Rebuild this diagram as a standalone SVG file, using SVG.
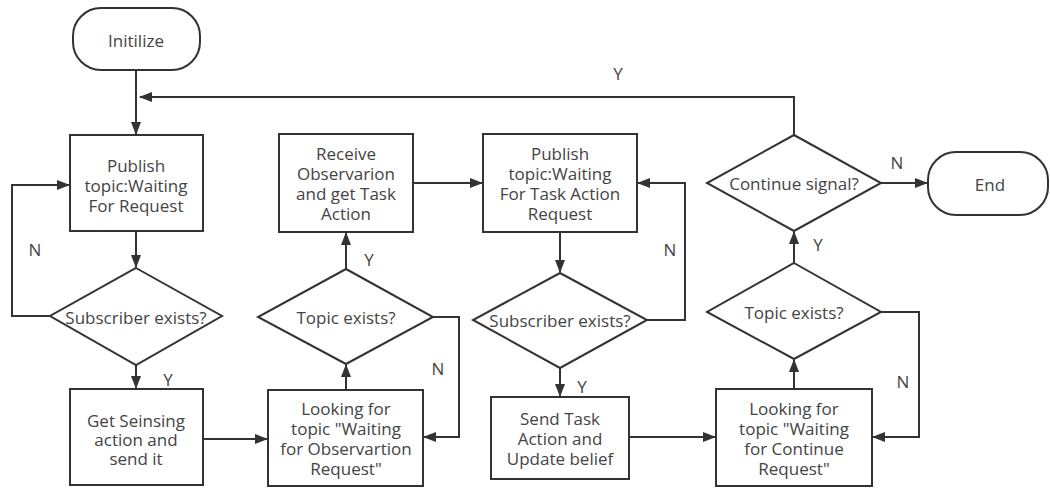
<svg xmlns="http://www.w3.org/2000/svg" width="1050" height="488" viewBox="0 0 1050 488">
  <style>
    .shape { fill: #ffffff; stroke: #333333; stroke-width: 2; }
    .edge { fill: none; stroke: #333333; stroke-width: 2; }
    text { font-family: "Open Sans", "Noto Sans", "Liberation Sans", sans-serif; font-size: 17px; fill: #444444; text-anchor: middle; }
  </style>
  <defs>
    <marker id="arrow" markerUnits="userSpaceOnUse" markerWidth="13" markerHeight="10" refX="12" refY="5" orient="auto">
      <path d="M0,0 L13,5 L0,10 z" fill="#333333"/>
    </marker>
  </defs>
  <rect width="1050" height="488" fill="#ffffff"/>

  <!-- connectors -->
  <g id="connectors">
    <path class="edge" d="M136,70 V134" marker-end="url(#arrow)"/>
    <path class="edge" d="M794,135 V97 H140" marker-end="url(#arrow)"/>
    <path class="edge" d="M136,231 V267" marker-end="url(#arrow)"/>
    <path class="edge" d="M50,316 H12 V185 H69" marker-end="url(#arrow)"/>
    <path class="edge" d="M136,365 V388" marker-end="url(#arrow)"/>
    <path class="edge" d="M203,439 H267" marker-end="url(#arrow)"/>
    <path class="edge" d="M346,390 V365" marker-end="url(#arrow)"/>
    <path class="edge" d="M433,317 H459 V437 H424" marker-end="url(#arrow)"/>
    <path class="edge" d="M346,269 V233" marker-end="url(#arrow)"/>
    <path class="edge" d="M413,183 H482" marker-end="url(#arrow)"/>
    <path class="edge" d="M560,232 V272" marker-end="url(#arrow)"/>
    <path class="edge" d="M647,320 H685 V183 H638" marker-end="url(#arrow)"/>
    <path class="edge" d="M560,368 V396" marker-end="url(#arrow)"/>
    <path class="edge" d="M629,437 H715" marker-end="url(#arrow)"/>
    <path class="edge" d="M794,389 V360" marker-end="url(#arrow)"/>
    <path class="edge" d="M881,312 H919 V437 H873" marker-end="url(#arrow)"/>
    <path class="edge" d="M794,263 V232" marker-end="url(#arrow)"/>
    <path class="edge" d="M881,183 H927" marker-end="url(#arrow)"/>
    <!-- branch labels -->
    <text x="618" y="80">Y</text>
    <text x="35" y="256">N</text>
    <text x="168" y="386">Y</text>
    <text x="369" y="266">Y</text>
    <text x="438" y="375">N</text>
    <text x="670" y="256">N</text>
    <text x="582" y="393">Y</text>
    <text x="818" y="251">Y</text>
    <text x="903" y="388">N</text>
    <text x="897" y="169">N</text>
  </g>

  <g id="initialize">
    <rect class="shape" x="73" y="8" width="127" height="62" rx="28" ry="28"/>
    <text x="136" y="47">Initilize</text>
  </g>

  <g id="publish-request">
    <rect class="shape" x="70" y="135" width="133" height="96"/>
    <text x="136" y="172">Publish</text>
    <text x="136" y="192">topic:Waiting</text>
    <text x="136" y="212">For Request</text>
  </g>

  <g id="subscriber-check-1">
    <polygon class="shape" points="136,268 222,316 136,365 50,316"/>
    <text x="136" y="324">Subscriber exists?</text>
  </g>

  <g id="sensing-action">
    <rect class="shape" x="70" y="389" width="133" height="96"/>
    <text x="136" y="427">Get Seinsing</text>
    <text x="136" y="446">action and</text>
    <text x="136" y="465">send it</text>
  </g>

  <g id="look-observation">
    <rect class="shape" x="268" y="390" width="155" height="96"/>
    <text x="346" y="415">Looking for</text>
    <text x="346" y="435">topic "Waiting</text>
    <text x="346" y="455">for Observartion</text>
    <text x="346" y="475">Request"</text>
  </g>

  <g id="topic-check-1">
    <polygon class="shape" points="346,269 433,317 346,364 258,317"/>
    <text x="346" y="324">Topic exists?</text>
  </g>

  <g id="receive-observation">
    <rect class="shape" x="279" y="134" width="134" height="98"/>
    <text x="346" y="160">Receive</text>
    <text x="346" y="180">Observarion</text>
    <text x="346" y="200">and get Task</text>
    <text x="346" y="220">Action</text>
  </g>

  <g id="publish-task-action">
    <rect class="shape" x="483" y="134" width="154" height="98"/>
    <text x="560" y="160">Publish</text>
    <text x="560" y="180">topic:Waiting</text>
    <text x="560" y="200">For Task Action</text>
    <text x="560" y="220">Request</text>
  </g>

  <g id="subscriber-check-2">
    <polygon class="shape" points="560,273 647,320 560,368 473,320"/>
    <text x="560" y="327">Subscriber exists?</text>
  </g>

  <g id="send-task-action">
    <rect class="shape" x="491" y="397" width="138" height="82"/>
    <text x="560" y="425">Send Task</text>
    <text x="560" y="445">Action and</text>
    <text x="560" y="465">Update belief</text>
  </g>

  <g id="look-continue">
    <rect class="shape" x="716" y="389" width="156" height="97"/>
    <text x="794" y="415">Looking for</text>
    <text x="794" y="435">topic "Waiting</text>
    <text x="794" y="455">for Continue</text>
    <text x="794" y="475">Request"</text>
  </g>

  <g id="topic-check-2">
    <polygon class="shape" points="794,263 881,312 794,359 707,312"/>
    <text x="794" y="319">Topic exists?</text>
  </g>

  <g id="continue-signal">
    <polygon class="shape" points="794,135 881,183 794,231 707,183"/>
    <text x="794" y="190">Continue signal?</text>
  </g>

  <g id="end">
    <rect class="shape" x="928" y="152" width="120" height="63" rx="28" ry="28"/>
    <text x="990" y="191">End</text>
  </g>
</svg>
